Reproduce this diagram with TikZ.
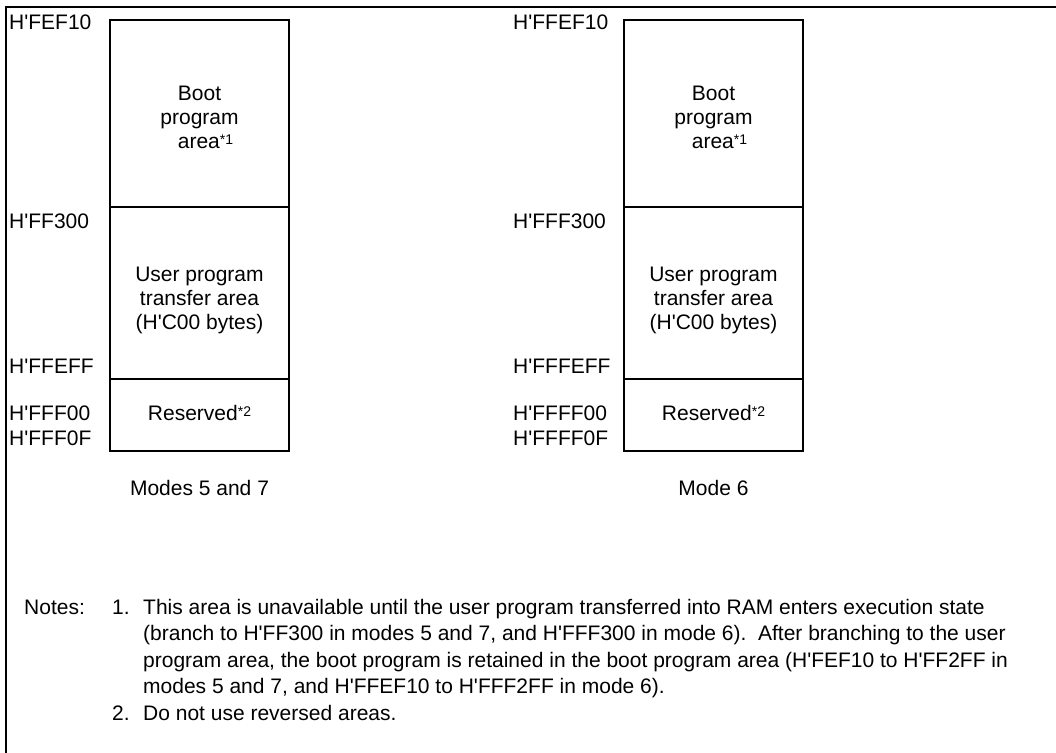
\documentclass[tikz,border=0pt]{standalone}
\usepackage{fontspec}
\setmainfont{Liberation Sans}
\newcommand\noteref[1]{\raisebox{4pt}{\fontsize{14}{14}\selectfont#1}}
\newcommand\q{\textquotesingle}
\begin{document}
\begin{tikzpicture}[x=1pt,y=-1pt,
  lbl/.style={anchor=base west,inner sep=0pt,font=\fontsize{21}{24}\selectfont},
  ctr/.style={anchor=base,inner sep=0pt,font=\fontsize{21}{24}\selectfont},
  btext/.style={align=center,inner sep=0pt,font=\fontsize{21}{24}\selectfont},
  region/.style={draw,line width=1.1pt},
  frameline/.style={line width=1.6pt},
  notetext/.style={anchor=base west,inner sep=0pt,align=left,font=\fontsize{21}{26.5}\selectfont}]
\useasboundingbox (0,0) rectangle (1056,752);
% frame
\coordinate (fb) at (6,760);
\coordinate (fc) at (6,7);
\coordinate (fr) at (1060,7);
\draw[frameline] (fb) -- (fc) -- (fr);

% ---- left map (modes 5 and 7)
\draw[region] (110,20) rectangle (289,451);
\draw[region] (110,207) -- (289,207);
\draw[region] (110,379) -- (289,379);
\node[lbl] (a1) at (9,29.5) {H\q FEF10};
\node[lbl] (a2) at (9,228.3) {H\q FF300};
\node[lbl] (a3) at (9,373.3) {H\q FFEFF};
\node[lbl] (a4) at (9,420) {H\q FFF00};
\node[lbl] (a5) at (9,445.5) {H\q FFF0F};
\node[btext] (boot1) at (199.5,117) {Boot\\program\\\hspace*{12pt}area\noteref{*1}};
\node[btext] (user1) at (199.5,300) {User program\\transfer area\\(H\q C00 bytes)};
\node[ctr] (res1) at (199.5,420) {Reserved\noteref{*2}};
\node[ctr] (m1) at (199.5,495) {Modes 5 and 7};

% ---- right map (mode 6)
\draw[region] (624,20) rectangle (803,451);
\draw[region] (624,207) -- (803,207);
\draw[region] (624,379) -- (803,379);
\node[lbl] (b1) at (513,29.5) {H\q FFEF10};
\node[lbl] (b2) at (513,228.3) {H\q FFF300};
\node[lbl] (b3) at (513,373.3) {H\q FFFEFF};
\node[lbl] (b4) at (513,420) {H\q FFFF00};
\node[lbl] (b5) at (513,445.5) {H\q FFFF0F};
\node[btext] (boot2) at (713.5,117) {Boot\\program\\\hspace*{12pt}area\noteref{*1}};
\node[btext] (user2) at (713.5,300) {User program\\transfer area\\(H\q C00 bytes)};
\node[ctr] (res2) at (713.5,420) {Reserved\noteref{*2}};
\node[ctr] (m2) at (713.5,495) {Mode 6};

% ---- notes
\node[lbl] (notes) at (24,614) {Notes:};
\node[lbl] (n1num) at (112,614) {1.};
\node[notetext] (n1) at (143,693.5) {This area is unavailable until the user program transferred into RAM enters execution state\\
(branch to H\q FF300 in modes 5 and 7, and H\q FFF300 in mode 6).\ \ After branching to the user\\
program area, the boot program is retained in the boot program area (H\q FEF10 to H\q FF2FF in\\
modes 5 and 7, and H\q FFEF10 to H\q FFF2FF in mode 6).};
\node[lbl] (n2num) at (112,720) {2.};
\node[lbl] (n2) at (143,720) {Do not use reversed areas.};
\end{tikzpicture}
\end{document}
